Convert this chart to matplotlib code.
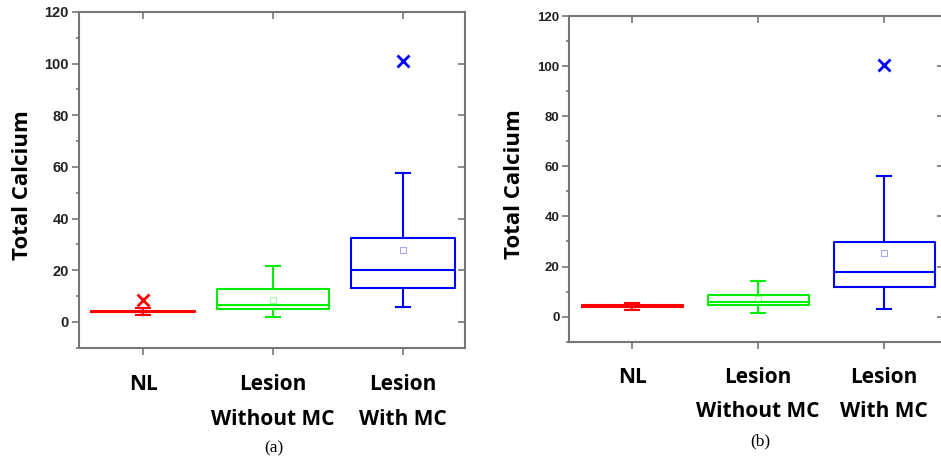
import matplotlib
matplotlib.use("Agg")
import matplotlib.pyplot as plt
from matplotlib.ticker import MultipleLocator

# ---- data ----
groups = ["NL", "Lesion\nWithout MC", "Lesion\nWith MC"]
colors = ["#ff0000", "#00ee00", "#0000ff"]

# panel (a)
a_q1 = [3.7, 5.0, 13.3]
a_med = [4.0, 6.5, 20.0]
a_q3 = [4.4, 12.7, 32.6]
a_lo = [2.7, 1.8, 5.8]
a_hi = [5.3, 21.6, 57.8]
a_mean = [4.1, 8.6, 28.0]
a_out = [[8.5], [], [101.0]]

# panel (b)
b_q1 = [3.8, 4.5, 11.7]
b_med = [4.1, 5.9, 18.0]
b_q3 = [4.5, 8.7, 29.8]
b_lo = [2.7, 1.6, 3.1]
b_hi = [5.3, 14.1, 56.0]
b_mean = [4.2, 6.9, 25.4]
b_out = [[], [], [100.3]]

SPINE = "#777777"


def make_stats(q1, med, q3, lo, hi, mean, out):
    stats = []
    for i in range(len(q1)):
        stats.append({"q1": q1[i], "med": med[i], "q3": q3[i],
                      "whislo": lo[i], "whishi": hi[i],
                      "mean": mean[i], "fliers": out[i]})
    return stats


def draw_panel(ax, stats, widths, tick_fs, caption, cap_xy, pad, lab_x):
    for i, st in enumerate(stats):
        c = colors[i]
        ax.bxp([st], positions=[i + 1], widths=[widths[i]], showmeans=True,
               capwidths=[0.11],
               boxprops=dict(color=c, lw=1.5),
               medianprops=dict(color=c, lw=1.5),
               whiskerprops=dict(color=c, lw=1.5),
               capprops=dict(color=c, lw=1.5),
               meanprops=dict(marker="s", markersize=4, markerfacecolor="none",
                              markeredgecolor=c, alpha=0.35, markeredgewidth=0.8),
               flierprops=dict(marker="x", markersize=8, markeredgecolor=c,
                               markeredgewidth=2))

    ax.set_ylim(-10, 120)
    ax.yaxis.set_major_locator(MultipleLocator(20))
    ax.yaxis.set_minor_locator(MultipleLocator(10))
    ax.set_xticks([1, 2, 3])
    ax.set_xticklabels(groups, fontsize=15, fontweight="bold",
                       family="Open Sans", linespacing=1.85)
    for lab in ax.get_yticklabels():
        lab.set_fontsize(tick_fs)
        lab.set_fontweight("bold")
        lab.set_family("Liberation Sans")
        lab.set_color("#222222")

    ax.tick_params(axis="y", which="major", direction="out", length=5,
                   width=1.2, color=SPINE, pad=2)
    ax.tick_params(axis="y", which="minor", direction="out", length=2.5,
                   width=1.2, color=SPINE)
    ax.tick_params(axis="x", which="major", direction="out", length=5,
                   width=1.2, color=SPINE, pad=pad)

    # right and top ticks point inward
    ry = ax.secondary_yaxis("right")
    ry.yaxis.set_major_locator(MultipleLocator(20))
    ry.tick_params(direction="in", length=5, width=1.2, color=SPINE,
                   labelright=False)
    ry.spines["right"].set_visible(False)
    tx = ax.secondary_xaxis("top")
    tx.set_xticks([1, 2, 3])
    tx.tick_params(direction="in", length=5, width=1.2, color=SPINE,
                   labeltop=False)
    tx.spines["top"].set_visible(False)

    for s in ax.spines.values():
        s.set_color(SPINE)
        s.set_linewidth(1.5)

    ax.set_ylabel("Total Calcium", fontsize=16, fontweight="bold",
                  family="Open Sans")
    ax.yaxis.set_label_coords(lab_x, 0.485)
    ax.figure.text(cap_xy[0], cap_xy[1], caption, fontsize=12.5,
                   family="Liberation Serif", ha="center", va="center")


fig = plt.figure(figsize=(9.41, 4.58), dpi=100)
W, H = 941.0, 458.0

ax_a = fig.add_axes([78.5 / W, 1 - 347.8 / H, (465 - 78.5) / W, (347.8 - 12) / H])
ax_a.set_xlim(0.5, 3.48)
draw_panel(ax_a, make_stats(a_q1, a_med, a_q3, a_lo, a_hi, a_mean, a_out),
           [0.8, 0.87, 0.8], 10.5, "(a)", (274 / W, 1 - 448 / H), 14, -0.117)

ax_b = fig.add_axes([569.3 / W, 1 - 341.7 / H, (944 - 569.3) / W, (341.7 - 16) / H])
ax_b.set_xlim(0.5, 3.475)
draw_panel(ax_b, make_stats(b_q1, b_med, b_q3, b_lo, b_hi, b_mean, b_out),
           [0.8, 0.8, 0.8], 9.5, "(b)", (760 / W, 1 - 441 / H), 13, -0.118)

fig.savefig("out.png", dpi=100)
